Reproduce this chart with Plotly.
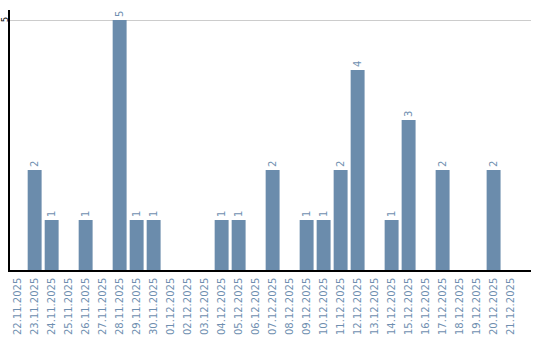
import plotly.graph_objects as go

dates = ["22.11.2025","23.11.2025","24.11.2025","25.11.2025","26.11.2025","27.11.2025",
         "28.11.2025","29.11.2025","30.11.2025","01.12.2025","02.12.2025","03.12.2025",
         "04.12.2025","05.12.2025","06.12.2025","07.12.2025","08.12.2025","09.12.2025",
         "10.12.2025","11.12.2025","12.12.2025","13.12.2025","14.12.2025","15.12.2025",
         "16.12.2025","17.12.2025","18.12.2025","19.12.2025","20.12.2025","21.12.2025"]
values = [0,2,1,0,1,0,5,1,1,0,0,0,1,1,0,2,0,1,1,2,4,0,1,3,0,2,0,0,2,0]
y_ticks = [5]

bar_color = "#6b8cac"
label_color = "#6f8fb0"

texts = [str(v) if v > 0 else "" for v in values]

fig = go.Figure(go.Bar(
    x=dates, y=values, text=texts, textposition="outside", textangle=-90,
    textfont=dict(family="DejaVu Sans", size=10, color=label_color),
    marker=dict(color=bar_color, line=dict(width=0)),
    cliponaxis=False, hoverinfo="skip",
))

for t in y_ticks:
    fig.add_annotation(
        xref="paper", yref="y", x=0, y=t, text=str(t), showarrow=False,
        textangle=-90, xanchor="center", yanchor="middle", xshift=-5,
        font=dict(family="DejaVu Sans", size=8, color="black"),
    )

fig.update_layout(
    width=540, height=340,
    margin=dict(l=10, r=9, t=10, b=70),
    paper_bgcolor="white", plot_bgcolor="white",
    bargap=0.18, showlegend=False,
    uniformtext=dict(minsize=8, mode="show"),
)
fig.update_xaxes(
    type="category", range=[-0.45, 30.2], tickangle=-90, showline=True,
    linecolor="black", linewidth=1.5,
    ticks="", showgrid=False, automargin=False, ticklabelstandoff=2,
    tickfont=dict(family="DejaVu Sans", size=10, color=label_color),
)
fig.update_yaxes(
    range=[0, 5.2], tickvals=y_ticks, showticklabels=False,
    showline=True, linecolor="black", linewidth=1.5, automargin=False,
    showgrid=True, gridcolor="#cccccc", gridwidth=1, zeroline=False,
)

fig.write_html("out.html")
